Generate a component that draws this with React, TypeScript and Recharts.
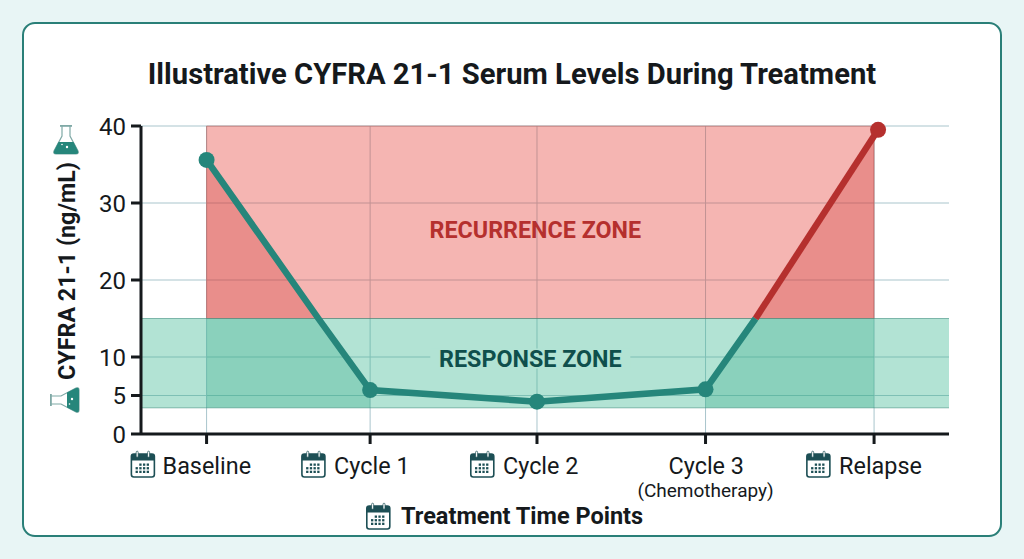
import React from 'react';
import { ComposedChart, Line, Area, XAxis, YAxis, CartesianGrid, ReferenceArea, ReferenceDot, ReferenceLine, Label } from 'recharts';

const categories = ['Baseline', 'Cycle 1', 'Cycle 2', 'Cycle 3', 'Relapse'];
const timePositions = [0, 0.98, 1.98, 2.99, 4];
const cyfraValues = [35.6, 5.7, 4.2, 5.8, 39.5];
const relapsePointPosition = 4.024;
const crossingLeft = 0.67;
const crossingRight = 3.29;
const recurrenceZone = [15, 40];
const responseZone = [3.4, 15];
const yTicks = [0, 5, 10, 20, 30, 40];
const relapseEdgeValue = 38.8;

const TEAL = '#26867b';
const RED = '#b5302e';
const base = responseZone[0];
const mid = responseZone[1];

const rows = [
  { x: timePositions[0], teal: cyfraValues[0], point: true, leftRed: [mid, cyfraValues[0]], leftGreen: [base, mid] },
  { x: crossingLeft, teal: mid, leftRed: [mid, mid], leftGreen: [base, mid] },
  { x: timePositions[1], teal: cyfraValues[1], point: true, leftGreen: [base, cyfraValues[1]] },
  { x: timePositions[2], teal: cyfraValues[2], point: true },
  { x: timePositions[3], teal: cyfraValues[3], point: true, rightGreen: [base, cyfraValues[3]] },
  { x: crossingRight, teal: mid, red: mid, rightGreen: [base, mid], rightRed: [mid, mid] },
  { x: timePositions[4], rightGreen: [base, mid], rightRed: [mid, relapseEdgeValue] },
  { x: relapsePointPosition, red: cyfraValues[4], point: true },
];

const FONT = 'Roboto, sans-serif';
const INK = '#15191c';

const Calendar = ({ x, y, s = 1 }: { x: number; y: number; s?: number }) => {
  const dots = [];
  for (let r = 0; r < 3; r++) for (let c = 0; c < 4; c++) {
    if (r === 0 && c === 0) continue;
    dots.push(<rect key={`${r}-${c}`} x={5 + c * 3.7} y={12.5 + r * 3.6} width={2.3} height={2.3} fill="#1d4f55" />);
  }
  return (
    <g transform={`translate(${x},${y}) scale(${s})`}>
      <rect x={0.8} y={3} width={23} height={23} rx={2.5} fill="#fff" stroke="#1d4f55" strokeWidth={1.6} />
      <path d="M0.8 9.5 V5.5 a2.5 2.5 0 0 1 2.5 -2.5 H21.3 a2.5 2.5 0 0 1 2.5 2.5 V9.5 Z" fill="#1d4f55" />
      <rect x={5.6} y={0.2} width={2} height={6} rx={1} fill="#fff" stroke="#1d4f55" strokeWidth={0.7} />
      <rect x={17} y={0.2} width={2} height={6} rx={1} fill="#fff" stroke="#1d4f55" strokeWidth={0.7} />
      {dots}
    </g>
  );
};

const Flask = ({ x, y, rotate = 0 }: { x: number; y: number; rotate?: number }) => (
  <g transform={`translate(${x},${y}) rotate(${rotate})`}>
    <path d="M-4 -14 V-4 L-12 11 Q-13 14 -10 14 H10 Q13 14 12 11 L4 -4 V-14" fill="#fff" stroke="#7fa9a6" strokeWidth={1.2} />
    <rect x={-6} y={-15} width={12} height={1.8} fill="#7fa9a6" />
    <path d="M-7.5 2 H7.5 L12 11 Q13 14 10 14 H-10 Q-13 14 -12 11 Z" fill={TEAL} />
    <circle cx={1} cy={7} r={1.2} fill="#fff" />
    <circle cx={-4} cy={4.5} r={0.8} fill="#fff" />
  </g>
);

const tickLayout = [
  { text: -44, icon: -76 },
  { text: -36, icon: -69 },
  { text: -34, icon: -67 },
  { text: -37, icon: 0, sub: '(Chemotherapy)' },
  { text: -35, icon: -68 },
];

const XTick = (props: any) => {
  const { x, y, index } = props;
  const layout = tickLayout[index];
  return (
    <g>
      {!layout.sub && <Calendar x={x + layout.icon} y={y + 5} />}
      <text x={x + layout.text} y={y + 28} fontFamily={FONT} fontSize={23.4} fill={INK}>{categories[index]}</text>
      {layout.sub && (
        <text x={x} y={y + 51} textAnchor="middle" fontFamily={FONT} fontSize={19} fill={INK}>{layout.sub}</text>
      )}
    </g>
  );
};

const ZoneText = ({ cx, cy, text, color, backing }: any) => (
  <g>
    {backing && <rect x={cx - 100} y={cy - 10} width={200} height={20} fill={backing} />}
    <text x={cx} y={cy + 8} textAnchor="middle" fontFamily={FONT} fontWeight={700} fontSize={23.3} fill={color}>{text}</text>
  </g>
);

const makeDot = (color: string) => (props: any) => {
  const { cx, cy, payload, index } = props;
  if (!payload.point || cx == null || cy == null) return <g key={index} />;
  return <circle key={index} cx={cx} cy={cy} r={8} fill={color} />;
};

const YTitle = () => (
  <g>
    <text x={0} y={0} transform="translate(75,271) rotate(-90)" textAnchor="middle" fontFamily={FONT} fontWeight={700} fontSize={23.3} fill={INK}>CYFRA 21-1 (ng/mL)</text>
    <Flask x={66} y={140} />
    <Flask x={65} y={400} rotate={-90} />
  </g>
);

const XTitle = () => (
  <g>
    <Calendar x={366} y={503} />
    <text x={401} y={524} fontFamily={FONT} fontWeight={700} fontSize={23.5} fill={INK}>Treatment Time Points</text>
  </g>
);

export default function App() {
  return (
    <div style={{ position: 'absolute', left: 0, top: 0, width: 1024, height: 559, background: '#e8f5f5', overflow: 'hidden' }}>
      <div style={{ position: 'absolute', left: 22, top: 22, width: 976, height: 511, background: '#fff', border: '2px solid #2a7f78', borderRadius: 13 }} />
      <div style={{ position: 'absolute', left: 0, top: 55, width: 1024, textAlign: 'center', fontFamily: FONT, fontWeight: 700, fontSize: 29.2, lineHeight: '38px', color: INK }}>
        Illustrative CYFRA 21-1 Serum Levels During Treatment
      </div>
      <div style={{ position: 'absolute', left: 0, top: 0 }}>
        <ComposedChart width={1024} height={559} data={rows} margin={{ top: 126, right: 75, bottom: 0, left: 0 }}>
          <CartesianGrid stroke="#a9c5cc" strokeWidth={1} verticalValues={timePositions} horizontalValues={yTicks} />
          <ReferenceArea x1={timePositions[0]} x2={timePositions[4]} y1={recurrenceZone[0]} y2={recurrenceZone[1]} fill="#e6463e" fillOpacity={0.4} stroke="#b5605c" strokeOpacity={0.5} />
          <ReferenceArea y1={responseZone[0]} y2={responseZone[1]} fill="#3eb993" fillOpacity={0.4} stroke="none" />
          <ReferenceLine y={responseZone[0]} stroke="#3f8f80" strokeOpacity={0.6} />
          <ReferenceLine y={responseZone[1]} stroke="#3f8f80" strokeOpacity={0.6} />
          <XAxis
            dataKey="x"
            type="number"
            domain={[-0.393, 4.449]}
            ticks={timePositions}
            height={125}
            interval={0}
            allowDataOverflow
            tick={<XTick />}
            tickSize={10}
            axisLine={{ stroke: INK, strokeWidth: 3 }}
            tickLine={{ stroke: INK, strokeWidth: 3 }}
          >
            <Label content={<XTitle />} />
          </XAxis>
          <YAxis
            domain={[0, 40]}
            ticks={yTicks}
            width={141}
            interval={0}
            tickSize={10}
            tickMargin={5}
            tick={{ fontFamily: FONT, fontSize: 24, fill: INK }}
            axisLine={{ stroke: INK, strokeWidth: 3 }}
            tickLine={{ stroke: INK, strokeWidth: 3 }}
          >
            <Label content={<YTitle />} />
          </YAxis>
          <Area dataKey="leftRed" stroke="none" fill="#cd3633" fillOpacity={0.3} isAnimationActive={false} />
          <Area dataKey="rightRed" stroke="none" fill="#cd3633" fillOpacity={0.3} isAnimationActive={false} />
          <Area dataKey="leftGreen" stroke="none" fill="#2daa84" fillOpacity={0.3} isAnimationActive={false} />
          <Area dataKey="rightGreen" stroke="none" fill="#2daa84" fillOpacity={0.3} isAnimationActive={false} />
          <ReferenceDot x={1.97} y={26.55} r={0} shape={(p: any) => <ZoneText {...p} text="RECURRENCE ZONE" color={RED} />} />
          <ReferenceDot x={1.94} y={9.8} r={0} shape={(p: any) => <ZoneText {...p} text="RESPONSE ZONE" color="#0f4f4c" backing="#b2e3d4" />} />
          <Line dataKey="teal" stroke={TEAL} strokeWidth={6.5} connectNulls dot={makeDot(TEAL)} activeDot={false} isAnimationActive={false} />
          <Line dataKey="red" stroke={RED} strokeWidth={6.5} connectNulls dot={makeDot(RED)} activeDot={false} isAnimationActive={false} />
        </ComposedChart>
      </div>
    </div>
  );
}
